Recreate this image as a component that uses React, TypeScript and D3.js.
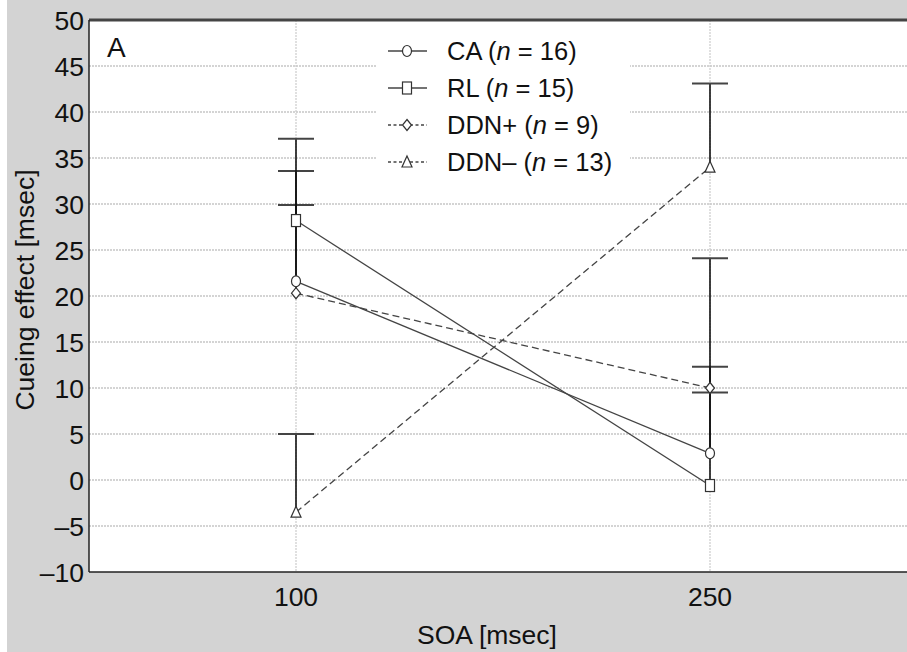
import React from "react";
import * as d3 from "d3";

const soa = [100, 250];
const seriesNames = ["CA", "RL", "DDN+", "DDN–"];
const seriesN = [16, 15, 9, 13];
const caMeans = [21.6, 2.9];
const rlMeans = [28.2, -0.6];
const ddnPlusMeans = [20.3, 10.0];
const ddnMinusMeans = [-3.5, 34.0];
const caUpper = [29.9, 12.3];
const rlUpper = [33.6, 9.5];
const ddnPlusUpper = [37.1, 24.1];
const ddnMinusUpper = [5.0, 43.1];
const yTicks = [-10, -5, 0, 5, 10, 15, 20, 25, 30, 35, 40, 45, 50];
const xTicks = [100, 250];

const W = 907;
const H = 652;
const FONT = "'Liberation Sans', Arial, Helvetica, sans-serif";

type Marker = "circle" | "square" | "diamond" | "triangle";

const series = [
  { name: seriesNames[0], n: seriesN[0], means: caMeans, upper: caUpper, marker: "circle" as Marker, dashed: false },
  { name: seriesNames[1], n: seriesN[1], means: rlMeans, upper: rlUpper, marker: "square" as Marker, dashed: false },
  { name: seriesNames[2], n: seriesN[2], means: ddnPlusMeans, upper: ddnPlusUpper, marker: "diamond" as Marker, dashed: true },
  { name: seriesNames[3], n: seriesN[3], means: ddnMinusMeans, upper: ddnMinusUpper, marker: "triangle" as Marker, dashed: true },
];

function MarkerShape({ type, x, y }: { type: Marker; x: number; y: number }) {
  const st = { fill: "white", stroke: "#333", strokeWidth: 1.2 };
  if (type === "circle") return <ellipse cx={x} cy={y} rx={4.5} ry={5.5} {...st} />;
  if (type === "square") return <rect x={x - 4.5} y={y - 6} width={9} height={12} {...st} />;
  if (type === "diamond")
    return <path d={`M${x},${y - 5.5}L${x + 4.5},${y}L${x},${y + 5.5}L${x - 4.5},${y}Z`} {...st} />;
  return <path d={`M${x},${y - 6}L${x + 5},${y + 5}L${x - 5},${y + 5}Z`} {...st} />;
}

export default function App() {
  const left = 89;
  const top = 20;
  const bottom = 572;
  const x = d3.scaleLinear().domain([100, 250]).range([296, 710]);
  const y = d3.scaleLinear().domain([-10, 50]).range([bottom, top]);
  const line = d3
    .line<[number, number]>()
    .x((d) => x(d[0]))
    .y((d) => y(d[1]));

  const legendX = 388;
  const legendRows = [51, 88, 125, 162];

  return (
    <svg
      width={W}
      height={H}
      style={{ position: "absolute", left: 0, top: 0, display: "block" }}
      fontFamily={FONT}
    >
      <rect x={0} y={0} width={W} height={H} fill="white" />
      <rect x={7} y={0} width={W - 7} height={H} fill="#d3d3d3" />
      <rect x={left} y={top} width={W - left} height={bottom - top} fill="white" />

      {/* grid */}
      {yTicks
        .filter((t) => t !== -10 && t !== 50)
        .map((t) => (
          <line
            key={"gy" + t}
            x1={left}
            x2={W}
            y1={y(t)}
            y2={y(t)}
            stroke="#c6c6c6"
            strokeWidth={1.5}
            strokeDasharray="2,1"
          />
        ))}
      {xTicks.map((t) => (
        <line
          key={"gx" + t}
          x1={x(t)}
          x2={x(t)}
          y1={top}
          y2={bottom}
          stroke="#cccccc"
          strokeWidth={1.2}
          strokeDasharray="2,1"
        />
      ))}

      {/* legend box */}
      <rect x={377} y={30} width={253} height={150} fill="white" />

      {/* frame */}
      <line x1={left} x2={W} y1={top} y2={top} stroke="#444" strokeWidth={3} />
      <line x1={left} x2={left} y1={top} y2={bottom} stroke="#222" strokeWidth={1.5} />
      <line x1={left} x2={W} y1={bottom} y2={bottom} stroke="#222" strokeWidth={1.5} />

      {/* y ticks */}
      {yTicks.map((t) => (
        <text
          key={"ty" + t}
          x={84}
          y={y(t)}
          dy="0.36em"
          textAnchor="end"
          fontSize={26.5}
          fill="#111"
        >
          {t < 0 ? "–" + Math.abs(t) : String(t)}
        </text>
      ))}
      {/* x ticks */}
      {xTicks.map((t) => (
        <text key={"tx" + t} x={x(t)} y={606} textAnchor="middle" fontSize={26.5} fill="#111">
          {t}
        </text>
      ))}
      <text x={487} y={644} textAnchor="middle" fontSize={26.5} fill="#111">
        SOA [msec]
      </text>
      <text
        transform={`translate(34,290) rotate(-90)`}
        textAnchor="middle"
        fontSize={26.5}
        fill="#111"
      >
        Cueing effect [msec]
      </text>
      <text x={107} y={57} fontSize={28} fill="#111">
        A
      </text>

      {/* error bars */}
      {series.map((s) =>
        soa.map((v, i) => (
          <g key={s.name + "e" + i}>
            <line x1={x(v)} x2={x(v)} y1={y(s.means[i])} y2={y(s.upper[i])} stroke="#111" strokeWidth={1.6} />
            <line
              x1={x(v) - 18}
              x2={x(v) + 18}
              y1={y(s.upper[i])}
              y2={y(s.upper[i])}
              stroke="#444"
              strokeWidth={2}
            />
          </g>
        ))
      )}

      {/* lines */}
      {series.map((s) => (
        <path
          key={s.name + "l"}
          d={line(soa.map((v, i) => [v, s.means[i]] as [number, number])) || ""}
          fill="none"
          stroke="#444"
          strokeWidth={1.3}
          strokeDasharray={s.dashed ? "7,4" : undefined}
        />
      ))}
      {series.map((s) =>
        soa.map((v, i) => <MarkerShape key={s.name + "m" + i} type={s.marker} x={x(v)} y={y(s.means[i])} />)
      )}

      {/* legend */}
      {series.map((s, i) => (
        <g key={s.name + "lg"}>
          <line
            x1={legendX}
            x2={legendX + 39}
            y1={legendRows[i]}
            y2={legendRows[i]}
            stroke="#444"
            strokeWidth={1.3}
            strokeDasharray={s.dashed ? "3,2.5" : undefined}
          />
          <MarkerShape type={s.marker} x={legendX + 19} y={legendRows[i]} />
          <text x={447} y={legendRows[i]} dy="0.36em" fontSize={25.5} fill="#111">
            {s.name + " ("}
            <tspan fontStyle="italic">n</tspan>
            {" = " + s.n + ")"}
          </text>
        </g>
      ))}
    </svg>
  );
}
